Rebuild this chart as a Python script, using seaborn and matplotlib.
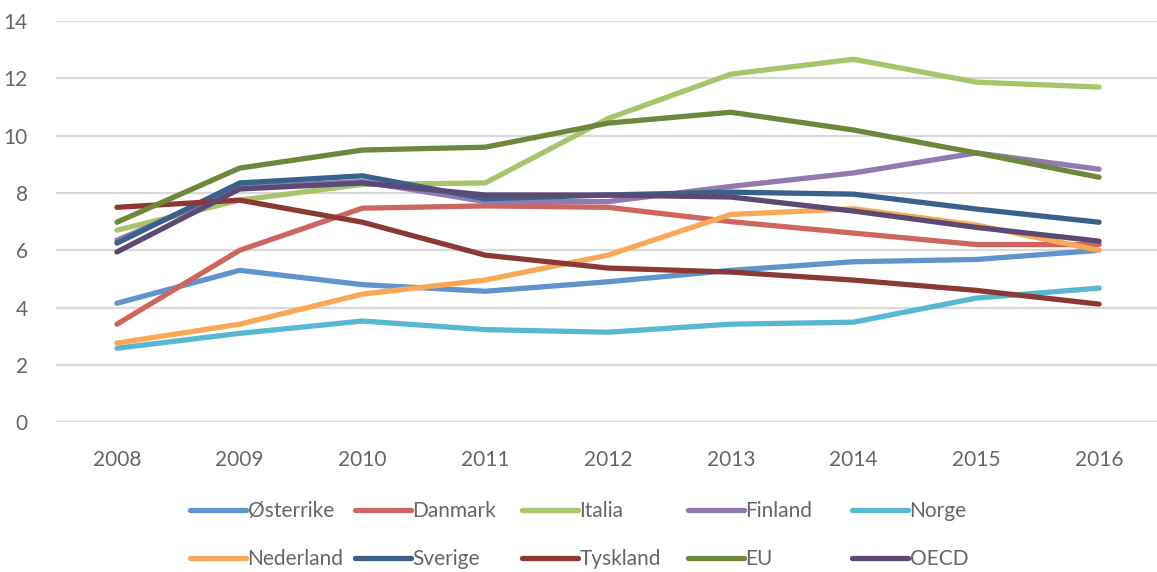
import matplotlib
matplotlib.use("Agg")
import matplotlib.pyplot as plt
import seaborn as sns
import pandas as pd

years = ["2008", "2009", "2010", "2011", "2012", "2013", "2014", "2015", "2016"]
osterrike = [4.15, 5.3, 4.8, 4.57, 4.9, 5.3, 5.6, 5.68, 6.0]
danmark = [3.42, 6.0, 7.47, 7.55, 7.5, 7.0, 6.6, 6.2, 6.2]
italia = [6.7, 7.75, 8.3, 8.35, 10.6, 12.15, 12.67, 11.87, 11.7]
finland = [6.35, 8.2, 8.4, 7.7, 7.7, 8.23, 8.7, 9.4, 8.83]
norge = [2.58, 3.1, 3.53, 3.23, 3.14, 3.42, 3.49, 4.33, 4.68]
nederland = [2.76, 3.42, 4.47, 4.96, 5.83, 7.25, 7.45, 6.88, 6.0]
sverige = [6.25, 8.35, 8.6, 7.8, 7.93, 8.03, 7.96, 7.44, 6.98]
tyskland = [7.5, 7.75, 6.98, 5.83, 5.38, 5.24, 4.96, 4.6, 4.12]
eu = [6.98, 8.87, 9.5, 9.6, 10.44, 10.82, 10.2, 9.4, 8.55]
oecd = [5.94, 8.14, 8.35, 7.93, 7.93, 7.86, 7.37, 6.8, 6.32]

series_names = ["Østerrike", "Danmark", "Italia", "Finland", "Norge",
                "Nederland", "Sverige", "Tyskland", "EU", "OECD"]
series_values = [osterrike, danmark, italia, finland, norge,
                 nederland, sverige, tyskland, eu, oecd]
colors = ["#5F95CC", "#CD665F", "#A9C46B", "#9179B1", "#58B8D1",
          "#F9A856", "#36628B", "#8A3935", "#6F873A", "#5C4A75"]

rows = []
for name, vals in zip(series_names, series_values):
    for i, (yr, v) in enumerate(zip(years, vals)):
        rows.append({"Serie": name, "xi": i, "År": yr, "Verdi": v})
df = pd.DataFrame(rows)

sns.set_theme(style="white")
plt.rcParams["font.family"] = ["Lato", "DejaVu Sans"]

fig = plt.figure(figsize=(11.57, 5.72), dpi=100)
ax = fig.add_axes([0.048, 0.262, 0.955, 0.701])

sns.lineplot(data=df, x="xi", y="Verdi", hue="Serie", hue_order=series_names,
             palette=dict(zip(series_names, colors)), sort=False, ax=ax,
             linewidth=3.8, legend=False)
for ln in ax.get_lines():
    ln.set_solid_capstyle("round")
    ln.set_solid_joinstyle("round")
    ln.set_clip_on(False)

ax.set_xlim(-0.5, len(years) - 0.5)
ax.set_ylim(0, 14)
ax.set_xticks(range(len(years)))
ax.set_xticklabels(years)
ax.set_yticks(range(0, 15, 2))
ax.set_xlabel("")
ax.set_ylabel("")
ax.yaxis.grid(True, color="#D9D9D9", linewidth=1.6)
ax.set_axisbelow(True)
for s in ax.spines.values():
    s.set_visible(False)
ax.tick_params(axis="x", length=0, pad=20, labelsize=15, labelcolor="#666666")
ax.tick_params(axis="y", length=0, pad=20, labelsize=15, labelcolor="#666666")

lines = ax.get_lines()
col_x = [188, 353, 520, 686, 850]
for c in range(5):
    hs = [lines[c], lines[c + 5]]
    ls = [series_names[c], series_names[c + 5]]
    leg = fig.legend(hs, ls, loc="upper left",
                     bbox_to_anchor=(col_x[c] / 1157 + 0.002, 1 - 501 / 572),
                     frameon=False, fontsize=15, handlelength=2.65,
                     handletextpad=0.1, labelspacing=1.35, borderpad=0,
                     borderaxespad=0)
    for t in leg.get_texts():
        t.set_color("#666666")
    for h in leg.legend_handles:
        h.set_solid_capstyle("round")

fig.savefig("out.png", dpi=100)
